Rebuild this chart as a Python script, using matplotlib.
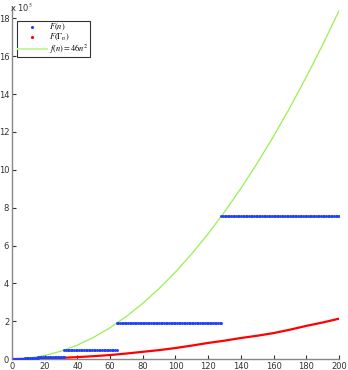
import numpy as np
import matplotlib.pyplot as plt
from matplotlib.lines import Line2D

plt.rcParams['mathtext.fontset'] = 'stix'

# F(n): constant levels on [start, end]
seg_start = [1, 2, 4, 8, 16, 32, 64, 128]
seg_end = [2, 4, 8, 16, 32, 64, 128, 200]
seg_level = [46, 184, 736, 2944, 11776, 47104, 188416, 753664]

# F(Gamma_n)
n_red = [0, 10, 20, 30, 40, 50, 60, 70, 80, 90, 100, 110, 120, 130, 140,
         150, 160, 170, 180, 190, 200]
f_red = [0, 1000, 3000, 6000, 10000, 15000, 21000, 29000, 38000, 47000, 58000,
         71000, 85000, 97000, 111000, 123000, 137000, 155000, 175000, 193000, 213000]

# f(n) = 46 n^2
n_green = [0, 10, 20, 30, 40, 50, 60, 70, 80, 90, 100, 110, 120, 130, 140,
           150, 160, 170, 180, 190, 200]
f_green = [0, 4600, 18400, 41400, 73600, 115000, 165600, 225400, 294400, 372600,
           460000, 556600, 662400, 777400, 901600, 1035000, 1177600, 1329400,
           1490400, 1660600, 1840000]

blue = '#2040ff'
red = '#ff0000'
green = '#99f050'

fig = plt.figure(figsize=(3.48, 3.70), dpi=100)
ax = fig.add_axes([0.0345, 0.0297, 0.9395, 0.951])

for s, e, lv in zip(seg_start, seg_end, seg_level):
    xs = np.arange(s, e + 1)
    ax.plot(xs, [lv] * len(xs), '.', color=blue, markersize=2.2, zorder=3)

ax.plot(n_red, f_red, '-', color=red, linewidth=1.6, zorder=2)
ax.plot(n_green, f_green, '-', color=green, linewidth=0.9, zorder=1)

ax.set_xlim(0, 200)
ax.set_ylim(0, 1.86e6)
ax.set_xticks(np.arange(0, 201, 20))
ax.set_yticks(np.arange(0, 18.1, 2) * 1e5)
ax.set_yticklabels([str(int(v)) for v in np.arange(0, 18.1, 2)])
ax.tick_params(direction='in', length=3, labelsize=6, colors='#333333', pad=2)
for sp in ['top', 'right']:
    ax.spines[sp].set_visible(False)
for sp in ['left', 'bottom']:
    ax.spines[sp].set_color('#888888')
    ax.spines[sp].set_linewidth(1.0)

fig.text(0.03, 0.995, r'x 10$^5$', fontsize=6, color='#333333', va='top')

handles = [
    Line2D([], [], marker='.', linestyle='none', color=blue, markersize=2.5),
    Line2D([], [], marker='.', linestyle='none', color=red, markersize=2.5),
    Line2D([], [], color='#c8f5a0', linewidth=1.5),
]
labels = [r'$F(n)$', r'$F(\Gamma_n)$', r'$f(n)=46n^2$']
leg = ax.legend(handles, labels, loc='upper left', bbox_to_anchor=(0.0153, 0.9605),
                prop={'size': 6}, frameon=True, fancybox=False, edgecolor='black',
                borderpad=0.15, labelspacing=-0.12, handlelength=3.4,
                handletextpad=0.3, borderaxespad=0)
leg.get_frame().set_linewidth(0.8)

fig.savefig('out.png', dpi=100)
